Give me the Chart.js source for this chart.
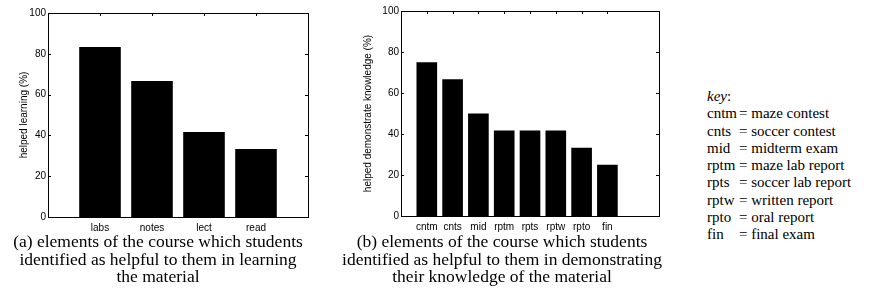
<!DOCTYPE html>
<html>
<head>
<meta charset="utf-8">
<script src="https://cdn.jsdelivr.net/npm/chart.js@4.4.0/dist/chart.umd.min.js"></script>
<style>
body { margin: 0; background: #fff; }
#page { position: relative; width: 894px; height: 300px; overflow: hidden; }
canvas { position: absolute; top: 0; }
#chartA { left: 0; }
#chartB { left: 340px; }
.cap { position: absolute; text-align: center; font-family: "Liberation Serif", "Times New Roman", serif;
  font-size: 17.5px; line-height: 17.5px; color: #000; white-space: nowrap; }
#capA { left: 0; width: 316px; top: 233px; }
#capB { left: 340px; width: 324px; top: 233px; }
#key { position: absolute; left: 707px; top: 88px; font-family: "Liberation Serif", "Times New Roman", serif;
  font-size: 15px; line-height: 17.25px; color: #000; }
#key .row { position: relative; height: 17.25px; }
#key .eq { position: absolute; left: 32px; white-space: nowrap; }
</style>
</head>
<body>
<div id="page">
  <canvas id="chartA" width="320" height="240"></canvas>
  <canvas id="chartB" width="330" height="240"></canvas>
  <div class="cap" id="capA">(a) elements of the course which students<br>identified as helpful to them in learning<br>the material</div>
  <div class="cap" id="capB">(b) elements of the course which students<br>identified as helpful to them in demonstrating<br>their knowledge of the material</div>
  <div id="key"></div>
</div>
<script>
// datos
const catsA = ['labs', 'notes', 'lect', 'read'];
const valsA = [83.3, 66.7, 41.7, 33.3];
const catsB = ['cntm', 'cnts', 'mid', 'rptm', 'rpts', 'rptw', 'rpto', 'fin'];
const valsB = [75, 66.7, 50, 41.7, 41.7, 41.7, 33.3, 25];
const yTicks = [0, 20, 40, 60, 80, 100];
const keyNames = ['maze contest', 'soccer contest', 'midterm exam', 'maze lab report',
  'soccer lab report', 'written report', 'oral report', 'final exam'];

// key (leyenda de texto)
const keyEl = document.getElementById('key');
keyEl.innerHTML = '<div class="row"><i>key</i>:</div>' +
  catsB.map((c, i) => `<div class="row">${c}<span class="eq">= ${keyNames[i]}</span></div>`).join('');

const tickFont = { family: 'Liberation Sans', size: 10 };

// ejes tipo matlab: caja y ticks hacia dentro
const matlabAxes = {
  id: 'matlabAxes',
  afterDatasetsDraw(chart) {
    const { ctx, chartArea: a, scales: { x, y } } = chart;
    ctx.save();
    ctx.strokeStyle = '#000';
    ctx.lineWidth = 1;
    ctx.beginPath();
    y.ticks.forEach(t => {
      const py = Math.round(y.getPixelForValue(t.value)) + 0.5;
      ctx.moveTo(a.left, py); ctx.lineTo(a.left + 3, py);
      ctx.moveTo(a.right, py); ctx.lineTo(a.right - 3, py);
    });
    x.ticks.forEach(t => {
      const px = Math.round(x.getPixelForValue(t.value)) + 0.5;
      ctx.moveTo(px, a.top); ctx.lineTo(px, a.top + 3);
      ctx.moveTo(px, a.bottom); ctx.lineTo(px, a.bottom - 3);
    });
    ctx.stroke();
    ctx.strokeRect(Math.round(a.left) + 0.5, Math.round(a.top) + 0.5,
      Math.round(a.right - a.left), Math.round(a.bottom - a.top));
    ctx.restore();
  }
};

function makeChart(id, cats, vals, xMax, yTitle, o) {
  return new Chart(document.getElementById(id).getContext('2d'), {
    type: 'bar',
    data: {
      datasets: [{
        data: cats.map((c, i) => ({ x: i + 1, y: vals[i] })),
        backgroundColor: '#000', borderWidth: 0,
        barPercentage: 0.8, categoryPercentage: 1
      }]
    },
    options: {
      responsive: false, animation: false,
      layout: { padding: { top: o.top, right: o.right, left: 0, bottom: 0 } },
      plugins: { legend: { display: false }, tooltip: { enabled: false } },
      scales: {
        x: {
          type: 'linear', min: 0, max: xMax, offset: false,
          grid: { display: false, drawTicks: false }, border: { display: false },
          afterBuildTicks: s => { s.ticks = cats.map((c, i) => ({ value: i + 1 })); },
          afterFit: s => { s.height = o.xh; },
          ticks: { autoSkip: false, maxRotation: 0, padding: 5, color: '#000', font: tickFont,
            callback: v => cats[v - 1] }
        },
        y: {
          min: 0, max: 100,
          grid: { display: false, drawTicks: false }, border: { display: false },
          afterBuildTicks: s => { s.ticks = yTicks.map(v => ({ value: v })); },
          afterFit: s => { s.width = o.yw; },
          ticks: { padding: 2, color: '#000', font: tickFont },
          title: { display: true, text: yTitle, color: '#000', font: tickFont,
            padding: { top: o.tpad, bottom: 0 } }
        }
      }
    },
    plugins: [matlabAxes]
  });
}

makeChart('chartA', catsA, valsA, 5, 'helped learning (%)',
  { top: 13, right: 12, xh: 23, yw: 48, tpad: 18 });
makeChart('chartB', catsB, valsB, 10, 'helped demonstrate knowledge (%)',
  { top: 11, right: 11, xh: 24, yw: 61, tpad: 22 });
</script>
</body>
</html>
